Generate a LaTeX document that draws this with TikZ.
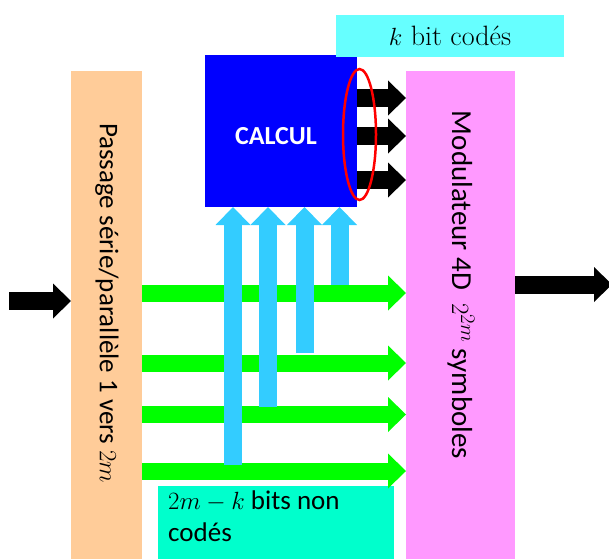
\documentclass[tikz,border=0pt]{standalone}
\usepackage{fontspec}
\setsansfont{Carlito}
\usetikzlibrary{arrows.meta}

\definecolor{peach}{HTML}{FFCC99}
\definecolor{modpink}{HTML}{FF99FF}
\definecolor{calcblue}{HTML}{0000FF}
\definecolor{kcyan}{HTML}{66FFFF}
\definecolor{aqua}{HTML}{00FFCC}
\definecolor{skyblue}{HTML}{33CCFF}
\definecolor{flashgreen}{HTML}{00FF00}

\begin{document}
\begin{tikzpicture}[x=1pt,y=-1pt,
    box/.style={rectangle, inner sep=0pt, outer sep=0pt},
    sf/.style={font=\sffamily\fontsize{27}{32}\selectfont},
    fat/.style={line width=18pt, -{Triangle[length=18pt, width=35pt, line width=0pt]}},
    blackarrow/.style={fat, black},
    greenarrow/.style={fat, flashgreen, line width=17pt},
    bluearrow/.style={fat, skyblue, line width=18pt}]
  \useasboundingbox (0,0) rectangle (609,559);

  % Nodes
  \node (serpar) at (106.5,315) [box, fill=peach, minimum width=71pt, minimum height=488pt] {};
  \node (modul) at (460.5,315) [box, fill=modpink, minimum width=109pt, minimum height=488pt] {};
  \node (calcul) at (281,131) [box, fill=calcblue, minimum width=152pt, minimum height=152pt] {};
  \node (kcode) at (450,36) [box, fill=kcyan, minimum width=228pt, minimum height=42pt,
    font=\fontsize{28}{33}\selectfont] {$k$ bit codés};
  \node (noncode) at (276,522.5) [box, fill=aqua, minimum width=236pt, minimum height=73pt] {};

  \node (serpartxt) at (107,303) [rotate=-90, sf] {Passage série/parallèle 1 vers $2m$};
  \node (modultxt) at (461,285) [rotate=-90, font=\sffamily\fontsize{29}{34}\selectfont] {Modulateur 4D\ \ $2^{2m}$ symboles};
  \node (calcultxt) at (276,136) [white, font=\sffamily\bfseries\fontsize{26}{30}\selectfont] {CALCUL};
  \node (noncodetxt) at (166,489) [anchor=north west, align=left, inner sep=2pt, sf] {$2m-k$ bits non\\codés};

  \coordinate (in) at (9,301);
  \coordinate (out) at (612,284.5);

  % Edges
  \draw[blackarrow] (in) -- (serpar.west |- in);
  \foreach \y in {293,363,414.5,471}
    \draw[greenarrow] (serpar.east |- 0,\y) -- (modul.west |- 0,\y);
  \foreach \x/\y in {233/465,268/407,304.5/353,339.5/285}
    \draw[bluearrow] (\x,\y) -- (calcul.south -| \x,0);
  \foreach \y in {98,136,180}
    \draw[blackarrow] (calcul.east |- 0,\y) -- (modul.west |- 0,\y);
  \draw[blackarrow] (modul.east |- out) -- (out);

  % red ring round the coded bits
  \draw[red, line width=2.5pt] (359.5,134.5) ellipse [x radius=16.5, y radius=65.5];
\end{tikzpicture}
\end{document}
